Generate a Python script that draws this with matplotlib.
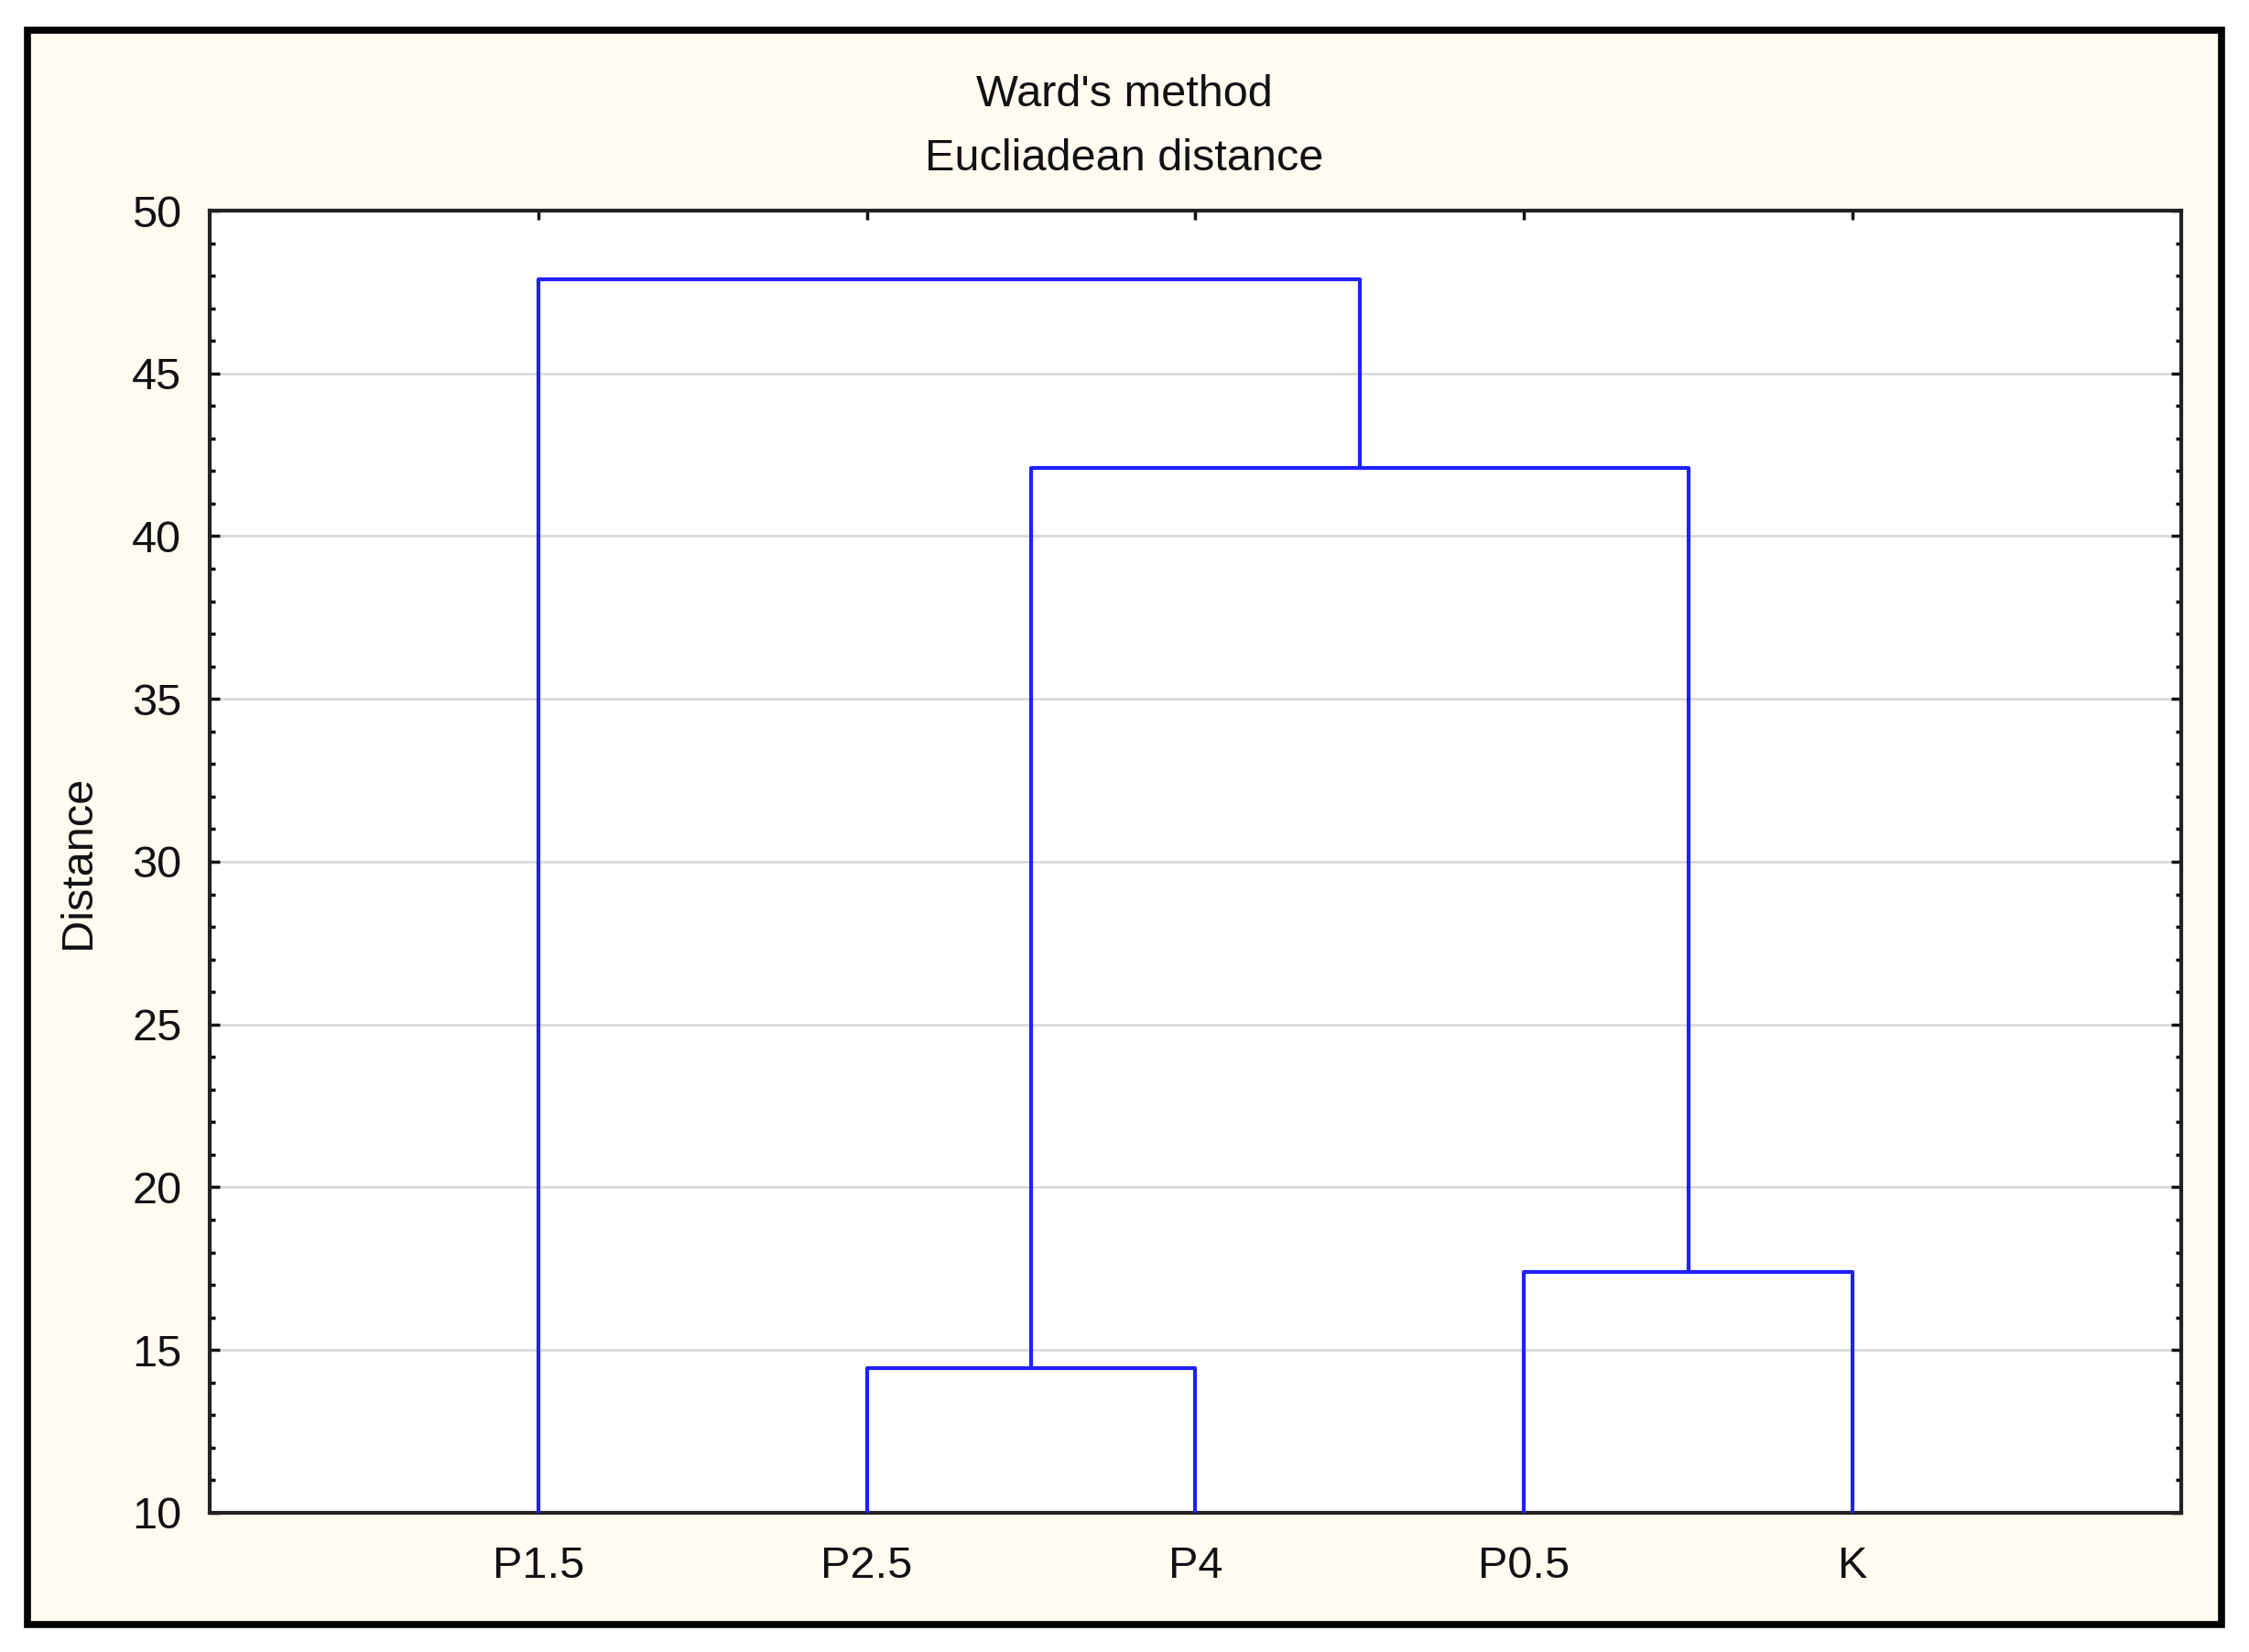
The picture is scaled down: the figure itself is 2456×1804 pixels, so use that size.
import matplotlib
matplotlib.use('Agg')
import matplotlib.pyplot as plt
from matplotlib.patches import Rectangle
from matplotlib.ticker import MultipleLocator

plt.rcParams['font.family'] = ['Liberation Sans', 'DejaVu Sans']

leaves = ['P1.5', 'P2.5', 'P4', 'P0.5', 'K']
# merges: (node a, node b, linkage distance); nodes 0-4 are leaves, 5+ new clusters
merges = [(1, 2, 14.45), (3, 4, 17.4), (5, 6, 42.1), (0, 7, 47.9)]

fig = plt.figure(figsize=(24.56, 18.04), dpi=100)
fig.patch.set_facecolor('white')
fig.patches.append(Rectangle((0.0122, 0.0166), 0.9756, 0.9651, transform=fig.transFigure,
                             facecolor='#FFFBF0', edgecolor='black', linewidth=5.5, zorder=-10))

ax = fig.add_axes([0.0932, 0.0843, 0.8767, 0.7882])
ax.set_zorder(5)
ax.set_facecolor('white')

xpos = {i: i + 1.0 for i in range(len(leaves))}
ypos = {i: 0.0 for i in range(len(leaves))}
for k, (a, b, h) in enumerate(merges):
    node = len(leaves) + k
    ax.plot([xpos[a], xpos[a], xpos[b], xpos[b]], [ypos[a], h, h, ypos[b]],
            color='#1F1FFF', linewidth=3, zorder=3)
    xpos[node] = (xpos[a] + xpos[b]) / 2
    ypos[node] = h

ax.set_xlim(0, 6)
ax.set_ylim(10, 50)
ax.set_xticks(range(1, len(leaves) + 1))
ax.set_xticklabels(leaves)
ax.yaxis.set_major_locator(MultipleLocator(5))
ax.yaxis.set_minor_locator(MultipleLocator(1))
ax.grid(axis='y', color='#DADADA', linewidth=2, zorder=0)
ax.set_axisbelow(True)

ax.tick_params(axis='x', which='both', bottom=False, top=True, direction='in',
               length=7, width=2.5, labelsize=35, pad=26, colors='#111111')
ax.tick_params(axis='y', which='major', left=True, right=True, direction='in',
               length=8, width=2.5, labelsize=35, pad=22, colors='#111111')
ax.tick_params(axis='y', which='minor', left=True, right=True, direction='in',
               length=4, width=2.5)
for s in ax.spines.values():
    s.set_linewidth(3)
    s.set_color('#222222')

ax.set_ylabel('Distance', fontsize=35, labelpad=26, color='#111111')

fig.text(0.5, 1 - 103 / 1804, "Ward's method", ha='center', va='center', fontsize=35, color='#111111')
fig.text(0.5, 1 - 173 / 1804, 'Eucliadean distance', ha='center', va='center', fontsize=35, color='#111111')

fig.savefig('out.png', dpi=100)
